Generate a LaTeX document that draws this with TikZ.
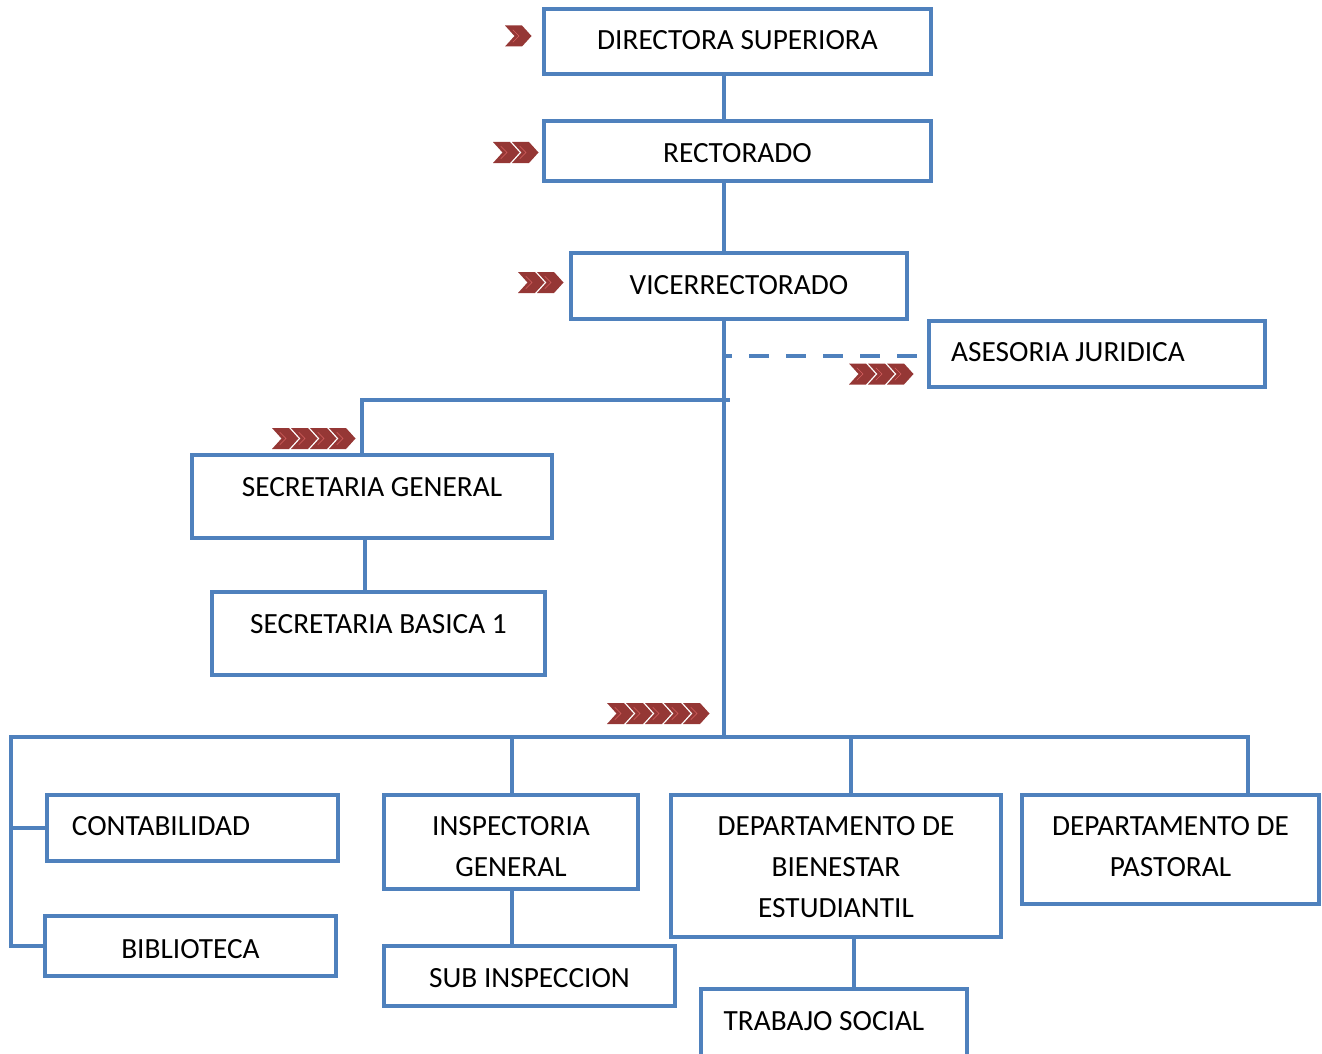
\documentclass[tikz,border=0pt]{standalone}
\usepackage{fontspec}
\setmainfont{Carlito}
\usetikzlibrary{calc}

\definecolor{orgblue}{HTML}{4F81BD}
\definecolor{chevred}{HTML}{953735}

\tikzset{
  box/.style={draw=orgblue, line width=3.8pt, inner sep=0pt},
  link/.style={draw=orgblue, line width=3.8pt},
  txt/.style={font=\fontsize{29.3}{41}\selectfont, align=center, inner sep=0pt},
  chev/.style={fill=chevred}
}

% row of chevron markers: left x, middle y, count
\newcommand{\chevrons}[3]{%
  \foreach \k in {1,...,#3} {
    \fill[chev] ({#1+(\k-1)*19},{#2-10.5}) -- ++(17,0) -- ++(9.5,10.5) -- ++(-9.5,10.5) -- ++(-17,0) -- ++(9.5,-10.5) -- cycle;
    \draw[chevred!55!red!70!white, line width=0.6pt] ({#1+(\k-1)*19+8},{#2-6}) -- ++(6,6) -- ++(-6,6);
  }}

\begin{document}
\begin{tikzpicture}[line cap=rect,line join=miter,x=1pt,y=-1pt]
    \useasboundingbox (0,0) rectangle (1322,1054);
    \clip (0,0) rectangle (1322,1054);

    % Top of the chart
    \draw (737.5,41.5) node[box, minimum width=387, minimum height=65] (dir) [label={[txt, yshift=1.5]center:DIRECTORA SUPERIORA}] {};
    \draw (737.5,151) node[box, minimum width=387, minimum height=60] (rect) [label={[txt, yshift=-2]center:RECTORADO}] {};
    \draw (739,286) node[box, minimum width=336, minimum height=66] (vice) [label={[txt, yshift=1]center:VICERRECTORADO}] {};
    \draw (1097,354) node[box, minimum width=336, minimum height=66] (ases) [label={[txt, xshift=-29, yshift=2]center:ASESORIA JURIDICA}] {};

    % Secretaria
    \draw (372,496.5) node[box, minimum width=360, minimum height=83] (secgen) [label={[txt, yshift=9.5]center:SECRETARIA GENERAL}] {};
    \draw (378.5,633.5) node[box, minimum width=333, minimum height=83] (secbas) [label={[txt, yshift=9.5]center:SECRETARIA BASICA 1}] {};

    % Departments
    \draw (192.5,828) node[box, minimum width=291, minimum height=66] (conta) [label={[txt, xshift=-31.5, yshift=2]center:CONTABILIDAD}] {};
    \draw (190.5,946) node[box, minimum width=291, minimum height=60] (biblio) [label={[txt, yshift=-3]center:BIBLIOTECA}] {};
    \draw (511,842) node[box, minimum width=254, minimum height=94] (insp) [label={[txt, yshift=-4.5]center:{INSPECTORIA\\GENERAL}}] {};
    \draw (529.5,976) node[box, minimum width=291, minimum height=60] (subinsp) [label={[txt, yshift=-2]center:SUB INSPECCION}] {};
    \draw (836,866) node[box, minimum width=330, minimum height=142] (bien) [label={[txt, yshift=-1.5]center:{DEPARTAMENTO DE\\BIENESTAR\\ESTUDIANTIL}}] {};
    \draw (1170.5,849.5) node[box, minimum width=297, minimum height=109] (past) [label={[txt, yshift=3]center:{DEPARTAMENTO DE\\PASTORAL}}] {};
    \draw (834,1024) node[box, minimum width=266, minimum height=70] (trab) [label={[txt, xshift=-10, yshift=3]center:TRABAJO SOCIAL}] {};

    % Junction points
    \coordinate (bus) at (724,737);
    \coordinate (busL) at (11,737);
    \coordinate (busR) at (1248,737);
    \coordinate (secbranch) at (362,400);
    \coordinate (sgline) at (365,0);
    \coordinate (idrop) at (512,737);
    \coordinate (bdrop) at (851,737);
    \coordinate (tline) at (854,0);
    \coordinate (dashend) at ([yshift=-2]ases.west);

    % Edges
    \draw[link] (dir.south -| bus) -- (rect.north -| bus);
    \draw[link] (rect.south -| bus) -- (vice.north -| bus);
    \draw[link] (vice.south -| bus) -- (bus);
    \draw[link, line cap=butt, dash pattern=on 20pt off 17pt, dash phase=12pt] (dashend -| bus) -- (dashend);
    \draw[link] (secgen.north -| secbranch) -- (secbranch) -- ([xshift=4]secbranch -| bus);
    \draw[link] (secgen.south -| sgline) -- (secbas.north -| sgline);
    \draw[link] (biblio.west -| busL) -- (busL) -- (busR) -- (past.north -| busR);
    \draw[link] (conta.west -| busL) -- (conta.west);
    \draw[link] (biblio.west -| busL) -- (biblio.west);
    \draw[link] (idrop) -- (insp.north -| idrop);
    \draw[link] (bdrop) -- (bien.north -| bdrop);
    \draw[link] (insp.south -| idrop) -- (subinsp.north -| idrop);
    \draw[link] (bien.south -| tline) -- (trab.north -| tline);

    % Chevron markers
    \chevrons{505}{36}{1}
    \chevrons{493}{152.5}{2}
    \chevrons{518}{282.5}{2}
    \chevrons{849}{374}{3}
    \chevrons{272}{438.5}{4}
    \chevrons{607}{713.5}{5}
\end{tikzpicture}
\end{document}
